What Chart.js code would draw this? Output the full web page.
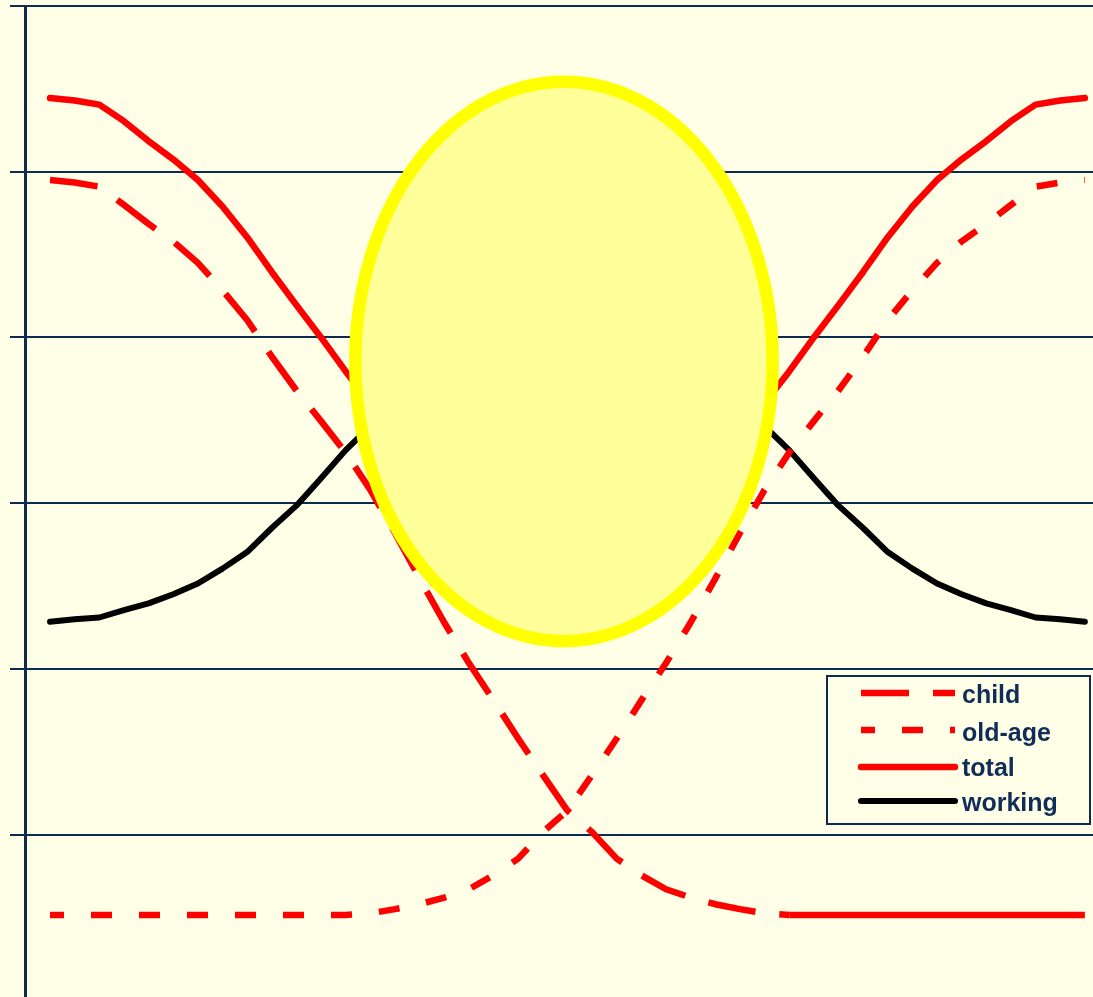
<!DOCTYPE html>
<html>
<head>
<meta charset="utf-8">
<script src="https://cdn.jsdelivr.net/npm/chart.js@4/dist/chart.umd.min.js"></script>
<style>
  html, body { margin: 0; padding: 0; background: #FFFFE8; overflow: hidden; }
  canvas { display: block; }
</style>
</head>
<body>
<canvas id="chart" width="1093" height="997"></canvas>
<script>
// Time steps of the demographic transition (evenly spaced)
const periods = [0, 1, 2, 3, 4, 5, 6, 7, 8, 9, 10, 11, 12, 13, 14, 15, 16, 17, 18, 19, 20,
                 21, 22, 23, 24, 25, 26, 27, 28, 29, 30, 31, 32, 33, 34, 35, 36, 37, 38, 39, 40, 41, 42];

// Dependency ratios (per 100 working-age people)
const childRatio = [99.0, 98.7, 98.2, 96.0, 93.7, 91.6, 89.0, 85.7, 82.1, 77.7, 73.6, 69.9, 66.1,
                    61.6, 56.4, 50.9, 45.6, 40.7, 36.2, 31.6, 27.2, 22.9, 20.3, 17.1, 15.1, 13.4,
                    12.4, 11.6, 11.0, 10.5, 10.3, 10.3, 10.3, 10.3, 10.3, 10.3, 10.3, 10.3, 10.3,
                    10.3, 10.3, 10.3, 10.3];
const oldAgeRatio = [10.3, 10.3, 10.3, 10.3, 10.3, 10.3, 10.3, 10.3, 10.3, 10.3, 10.3, 10.3, 10.3,
                     10.5, 11.0, 11.6, 12.4, 13.4, 15.1, 17.1, 20.3, 22.9, 27.2, 31.6, 36.2, 40.7,
                     45.6, 50.9, 56.4, 61.6, 66.1, 69.9, 73.6, 77.7, 82.1, 85.7, 89.0, 91.6, 93.7,
                     96.0, 98.2, 98.7, 99.0];
const totalRatio = [108.9, 108.6, 108.1, 106.1, 103.7, 101.5, 99.0, 95.8, 92.1, 87.9, 83.9, 80.0,
                    75.9, 72.1, 67.4, 62.5, 58.0, 54.1, 51.3, 48.7, 47.5, 45.8, 47.5, 48.7, 51.3,
                    54.1, 58.0, 62.5, 67.4, 72.1, 75.9, 80.0, 83.9, 87.9, 92.1, 95.8, 99.0, 101.5,
                    103.7, 106.1, 108.1, 108.6, 108.9];
// Working-age share indicator
const workingRatio = [45.7, 46.0, 46.2, 47.1, 47.9, 49.0, 50.3, 52.1, 54.1, 57.0, 59.7, 63.0, 66.4,
                      69.3, 74.2, 80.0, 86.2, 92.4, 97.5, 102.7, 105.3, 109.2, 105.3, 102.7, 97.5,
                      92.4, 86.2, 80.0, 74.2, 69.3, 66.4, 63.0, 59.7, 57.0, 54.1, 52.1, 50.3, 49.0,
                      47.9, 47.1, 46.2, 46.0, 45.7];

// Horizontal grid lines
const gridValues = [20, 40, 60, 80, 100, 120];

// "Window of opportunity" highlight, in data units
const highlight = { x: 20.86, y: 77.1, rx: 8.47, ry: 33.76 };

const BG = '#FFFFE8';
const NAVY = '#0D2B4E';

const toPoints = values => periods.map((p, i) => ({ x: p, y: values[i] }));

const backgroundPlugin = {
  id: 'pageBackground',
  beforeDraw(chart) {
    const ctx = chart.ctx;
    ctx.save();
    ctx.fillStyle = BG;
    ctx.fillRect(0, 0, chart.width, chart.height);
    ctx.restore();
  }
};

const highlightPlugin = {
  id: 'windowHighlight',
  afterDatasetsDraw(chart) {
    const { ctx, scales: { x, y } } = chart;
    const cx = x.getPixelForValue(highlight.x);
    const cy = y.getPixelForValue(highlight.y);
    const rx = Math.abs(x.getPixelForValue(highlight.x + highlight.rx) - cx);
    const ry = Math.abs(y.getPixelForValue(highlight.y + highlight.ry) - cy);
    ctx.save();
    ctx.beginPath();
    ctx.ellipse(cx, cy, rx, ry, 0, 0, Math.PI * 2);
    ctx.fillStyle = '#FFFF99';
    ctx.fill();
    ctx.lineWidth = 12.5;
    ctx.strokeStyle = '#FFFF00';
    ctx.stroke();
    ctx.restore();
  }
};

const boxLegendPlugin = {
  id: 'boxLegend',
  afterDraw(chart) {
    const { ctx, chartArea } = chart;
    const boxW = 263, boxH = 148;
    const left = chartArea.right - boxW - 3;
    const top = chartArea.top + 670;
    ctx.save();
    ctx.fillStyle = BG;
    ctx.fillRect(left, top, boxW, boxH);
    ctx.lineWidth = 2;
    ctx.strokeStyle = NAVY;
    ctx.strokeRect(left, top, boxW, boxH);

    const rowY = [17, 54, 91, 125];
    const textY = [20, 58, 93, 128];
    chart.data.datasets.forEach((ds, i) => {
      const y = top + rowY[i];
      ctx.beginPath();
      ctx.setLineDash(ds.borderDash || []);
      ctx.lineDashOffset = ds.borderDashOffset || 0;
      ctx.lineCap = ds.borderDash && ds.borderDash.length ? 'butt' : 'round';
      ctx.lineWidth = ds.borderWidth;
      ctx.strokeStyle = ds.borderColor;
      ctx.moveTo(left + 34, y);
      ctx.lineTo(left + 128, y);
      ctx.stroke();

      ctx.setLineDash([]);
      ctx.fillStyle = '#0F2D57';
      ctx.font = 'bold 25px "Liberation Sans", Arial, sans-serif';
      ctx.textBaseline = 'middle';
      ctx.textAlign = 'left';
      ctx.fillText(ds.label, left + 135, top + textY[i]);
    });
    ctx.restore();
  }
};

new Chart(document.getElementById('chart'), {
  type: 'line',
  data: {
    datasets: [
      {
        label: 'child',
        data: toPoints(childRatio),
        borderColor: '#FF0000',
        borderWidth: 6.5,
        borderDash: [48, 24],
        borderDashOffset: 0,
        borderCapStyle: 'butt',
        borderJoinStyle: 'round',
        segment: {
          borderDash: c => (c.p0.parsed.y === c.p1.parsed.y ? [] : undefined)
        },
        order: 1
      },
      {
        label: 'old-age',
        data: toPoints(oldAgeRatio),
        borderColor: '#FF0000',
        borderWidth: 6.5,
        borderDash: [21, 27],
        borderDashOffset: 7,
        borderCapStyle: 'butt',
        borderJoinStyle: 'round',
        order: 2
      },
      {
        label: 'total',
        data: toPoints(totalRatio),
        borderColor: '#FF0000',
        borderWidth: 6.5,
        borderCapStyle: 'round',
        borderJoinStyle: 'round',
        order: 3
      },
      {
        label: 'working',
        data: toPoints(workingRatio),
        borderColor: '#000000',
        borderWidth: 6,
        borderCapStyle: 'round',
        borderJoinStyle: 'round',
        order: 4
      }
    ]
  },
  options: {
    responsive: false,
    animation: false,
    devicePixelRatio: 1,
    layout: { padding: { left: 10, top: 6, right: 0, bottom: 0 } },
    elements: { point: { radius: 0, hoverRadius: 0 }, line: { tension: 0, fill: false } },
    scales: {
      x: { type: 'linear', min: -1.015, max: 42.33, display: false },
      y: {
        min: 0.4,
        max: 120,
        afterBuildTicks: scale => { scale.ticks = gridValues.map(v => ({ value: v })); },
        ticks: { display: false },
        grid: { color: NAVY, lineWidth: 2, tickLength: 15, drawTicks: true },
        border: { color: NAVY, width: 3 }
      }
    },
    plugins: {
      legend: { display: false },
      tooltip: { enabled: false }
    }
  },
  plugins: [backgroundPlugin, highlightPlugin, boxLegendPlugin]
});
</script>
</body>
</html>
